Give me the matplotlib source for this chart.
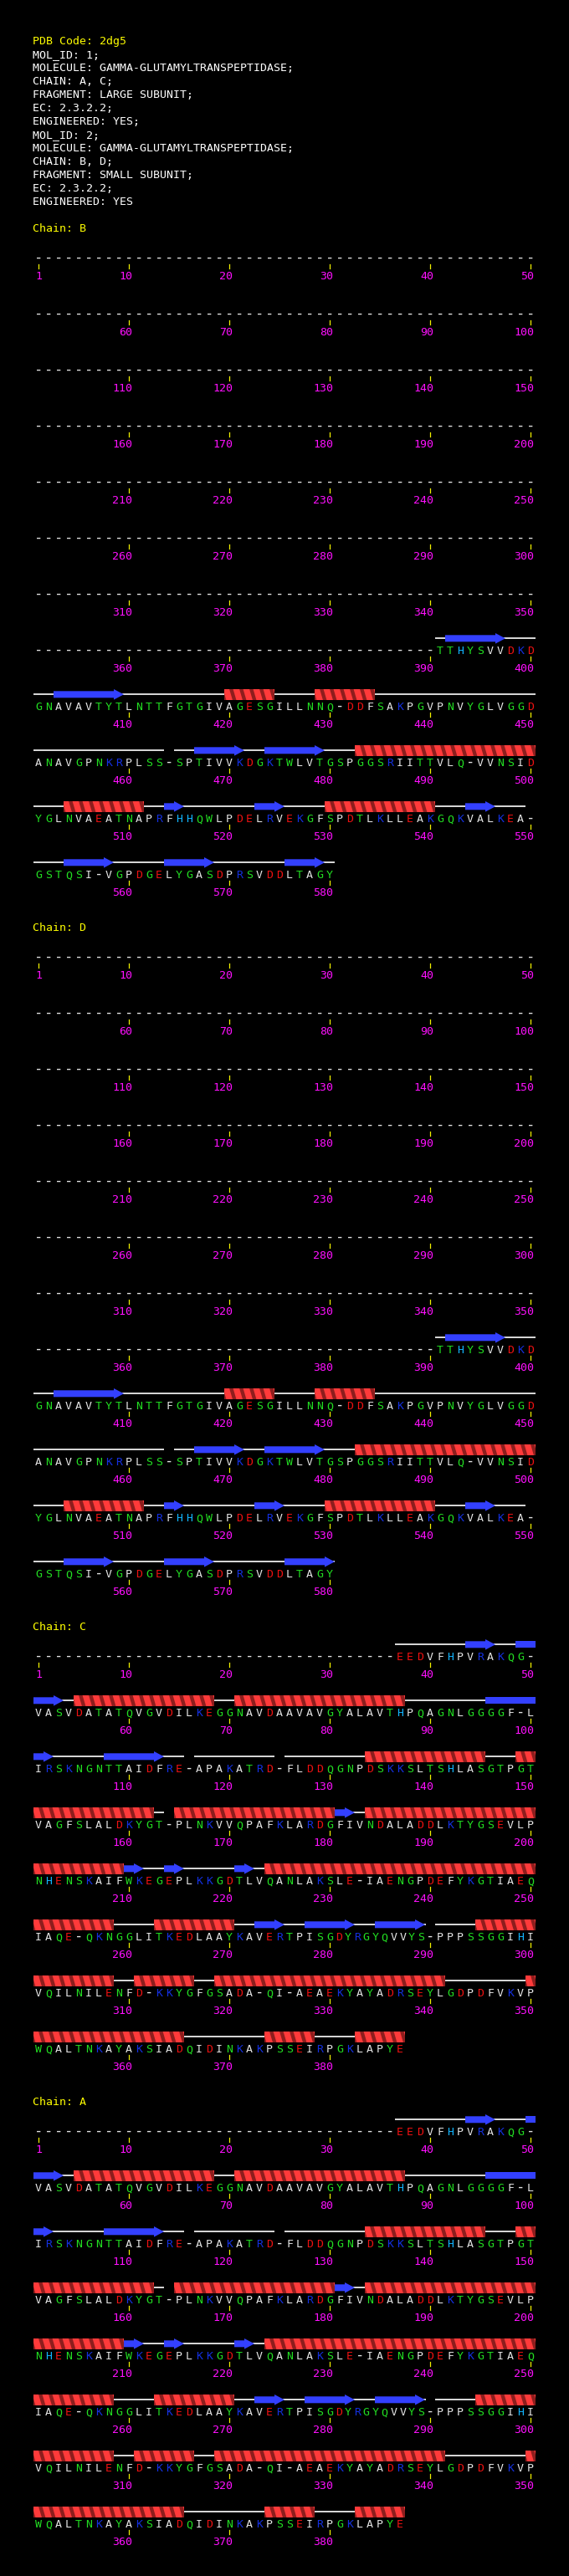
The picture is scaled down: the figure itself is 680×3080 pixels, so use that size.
import matplotlib
matplotlib.use("Agg")
import matplotlib.pyplot as plt
from matplotlib.patches import Rectangle, Polygon
import numpy as np

# ---------------- data ----------------
HEADER_TITLE = "PDB Code: 2dg5"
HEADER_LINES = [
    "MOL_ID: 1;",
    "MOLECULE: GAMMA-GLUTAMYLTRANSPEPTIDASE;",
    "CHAIN: A, C;",
    "FRAGMENT: LARGE SUBUNIT;",
    "EC: 2.3.2.2;",
    "ENGINEERED: YES;",
    "MOL_ID: 2;",
    "MOLECULE: GAMMA-GLUTAMYLTRANSPEPTIDASE;",
    "CHAIN: B, D;",
    "FRAGMENT: SMALL SUBUNIT;",
    "EC: 2.3.2.2;",
    "ENGINEERED: YES",
]

CHAIN_ORDER = ["B", "D", "C", "A"]

# small subunit (chains B, D): residues 391-580 ('-' = not observed)
SMALL_FIRST = 391
SMALL_SEQ = ("TTHYSVVDKD"
             "GNAVAVTYTLNTTFGTGIVAGESGILLNNQ-DDFSAKPGVPNVYGLVGGD"
             "ANAVGPNKRPLSS-SPTIVVKDGKTWLVTGSPGGSRIITTVLQ-VVNSID"
             "YGLNVAEATNAPRFHHQWLPDELRVEKGFSPDTLKLLEAKGQKVALKEA-"
             "GSTQSI-VGPDGELYGASDPRSVDDLTAGY")

# large subunit (chains A, C): residues 37-387, one inserted residue between 280 and 290
LARGE_FIRST = 37
LARGE_SEQ = ("EEDVFHPVRAKQG-"
             "VASVDATATQVGVDILKEGGNAVDAAVAVGYALAVTHPQAGNLGGGGF-L"
             "IRSKNGNTTAIDFRE-APAKATRD-FLDDQGNPDSKKSLTSHLASGTPGT"
             "VAGFSLALDKYGT-PLNKVVQPAFKLARDGFIVNDALADDLKTYGSEVLP"
             "NHENSKAIFWKEGEPLKKGDTLVQANLAKSLE-IAENGPDEFYKGTIAEQ"
             "IAQE-QKNGGLITKEDLAAYKAVERTPISGDYRGYQVVYS-PPPSSGGIHI"
             "VQILNILENFD-KKYGFGSADA-QI-AEAEKYAYADRSEYLGDPDFVKVP"
             "WQALTNKAYAKSIADQIDINKAKPSSEIRPGKLAPYE")
LARGE_INSERT_WINDOW = (280, 290)

B_STRANDS = [(392, 397), (403, 409), (467, 471), (474, 479), (514, 515), (523, 525),
             (544, 546), (554, 558), (564, 568), (576, 579)]
B_HELICES = [(420, 424), (429, 434), (483, 500), (504, 511), (530, 540)]
D_STRANDS = [(392, 397), (403, 409), (467, 471), (474, 479), (514, 515), (523, 525),
             (544, 546), (554, 558), (564, 568), (576, 580)]
D_HELICES = [(420, 424), (429, 434), (483, 500), (504, 511), (530, 540)]
C_STRANDS = [(44, 46), (49, 53), (96, 102), (108, 113), (181, 182), (210, 211), (214, 215),
             (221, 222), (273, 275), (278, 282), (285, 289)]
A_STRANDS = [(44, 46), (50, 53), (96, 102), (108, 113), (181, 182), (210, 211), (214, 215),
             (221, 222), (273, 275), (278, 282), (285, 289)]
AC_HELICES = [(55, 68), (71, 87), (134, 145), (149, 162), (165, 180), (184, 209), (224, 258),
              (263, 270), (295, 308), (311, 316), (319, 341), (350, 365), (374, 378), (383, 387)]

CHAINS = {
    "B": dict(first=SMALL_FIRST, seq=SMALL_SEQ, window=None, strands=B_STRANDS, helices=B_HELICES),
    "D": dict(first=SMALL_FIRST, seq=SMALL_SEQ, window=None, strands=D_STRANDS, helices=D_HELICES),
    "C": dict(first=LARGE_FIRST, seq=LARGE_SEQ, window=LARGE_INSERT_WINDOW, strands=C_STRANDS, helices=AC_HELICES),
    "A": dict(first=LARGE_FIRST, seq=LARGE_SEQ, window=LARGE_INSERT_WINDOW, strands=A_STRANDS, helices=AC_HELICES),
}

RES_GROUPS = {"AVLIPFM": "#e4e4e4", "GSTNQYWC": "#22dd22", "DE": "#ee1111",
              "KR": "#1430e0", "H": "#12b4ff", "-": "#e0e0e0"}

# ---------------- style ----------------
W, H = 680, 3080
FONT = "DejaVu Sans Mono"
FS = 9.5
FS_DASH = 12.5
ADV = 7.95
X0 = 40.0          # left edge of residue 1 slot
DX = 12.0          # residue slot width
ROW_H = 67.0
CAP = 4.8
C_STRAND = "#3340ff"
C_HELIX = "#ff3a3a"
C_HELIX_DK = "#8e1d1d"
C_TICK = "#f0f000"
C_NUM = "#ff10ff"
C_YEL = "#ffff00"

fig = plt.figure(figsize=(W / 100, H / 100), dpi=100)
fig.patch.set_facecolor("black")
ax = fig.add_axes([0, 0, 1, 1])
ax.set_xlim(0, W)
ax.set_ylim(H, 0)
ax.set_facecolor("black")
ax.axis("off")


def txt(x, y, s, color, ha="left", base=CAP, size=FS):
    ax.text(x, y + base, s, color=color, fontsize=size, family=FONT, ha=ha, va="baseline")


def layout(first, seq, window):
    items = [("-", float(r)) for r in range(1, first)]
    if window is None:
        items += [(c, float(first + i)) for i, c in enumerate(seq)]
        return items
    a, b = window
    ia = a - first
    nwin = b - a
    for i, c in enumerate(seq):
        if i <= ia:
            p = first + i
        elif i <= ia + nwin:
            k = i - ia
            p = a + k * (b - a) / (nwin + 1.0)
        else:
            p = first + i - 1
        items.append((c, float(p)))
    return items


def pieces(u0, u1):
    out = []
    k0 = int(np.floor(u0 / 50 + 1e-9))
    k1 = int(np.floor(u1 / 50 - 1e-9))
    for k in range(k0, k1 + 1):
        a = max(u0, 50 * k)
        b = min(u1, 50 * k + 50)
        out.append((k, X0 + DX * (a - 50 * k), X0 + DX * (b - 50 * k)))
    return out


def color_of(c):
    for g, col in RES_GROUPS.items():
        if c in g:
            return col
    return "#e4e4e4"


# header
hy = 48.3
txt(X0 - 1, hy, HEADER_TITLE, C_YEL)
for i, line in enumerate(HEADER_LINES):
    txt(X0 - 1, hy + 16 * (i + 1), line, "white")

y_label = hy + 16 * 14
for name in CHAIN_ORDER:
    ch = CHAINS[name]
    txt(X0 - 1, y_label, "Chain: " + name, C_YEL)
    items = layout(ch["first"], ch["seq"], ch["window"])
    last = int(round(max(p for _, p in items)))
    nrows = int(np.ceil(last / 50))
    row_y = [y_label + 36 + ROW_H * k for k in range(nrows)]

    # thin backbone line over observed residues
    runs, cur = [], None
    for c, p in items:
        if c != "-":
            if cur is None:
                cur = [p, p]
            else:
                cur[1] = p
        else:
            if cur is not None:
                runs.append(cur)
                cur = None
    if cur is not None:
        runs.append(cur)
    for p0, p1 in runs:
        for k, xa, xb in pieces(p0 - 1.0, p1):
            yl = row_y[k] - 14
            ax.plot([xa, xb], [yl, yl], color="white", lw=1.2, solid_capstyle="butt", zorder=1)

    # helices
    for s, e in ch["helices"]:
        for k, xa, xb in pieces(s - 1.0, float(e)):
            yc = row_y[k] - 13.8
            top, bot = yc - 6.8, yc + 6.8
            rect = Rectangle((xa, top), xb - xa, bot - top, facecolor=C_HELIX, edgecolor="none", zorder=2)
            ax.add_patch(rect)
            n = int(np.ceil((xb - xa) / DX)) + 1
            for j in range(-1, n):
                base = xa + DX * j
                poly = Polygon([(base + 6, top), (base + 10.5, top), (base + 14.5, bot), (base + 10, bot)],
                               closed=True, facecolor=C_HELIX_DK, edgecolor="none", zorder=2.1)
                ax.add_patch(poly)
                poly.set_clip_path(rect)

    # strands
    for s, e in ch["strands"]:
        pcs = pieces(s - 1.0, float(e))
        for idx, (k, xa, xb) in enumerate(pcs):
            yc = row_y[k] - 14
            if idx == len(pcs) - 1:
                hs = max(xa, xb - 12)
                pts = [(xa, yc - 4), (hs, yc - 4), (hs, yc - 6.3), (xb, yc), (hs, yc + 6.3),
                       (hs, yc + 4), (xa, yc + 4)]
            else:
                pts = [(xa, yc - 4), (xb, yc - 4), (xb, yc + 4), (xa, yc + 4)]
            ax.add_patch(Polygon(pts, closed=True, facecolor=C_STRAND, edgecolor="none", zorder=2.5))

    # residue letters
    for c, p in items:
        k = int(np.floor((p - 0.5) / 50))
        x = X0 + DX * (p - 0.5 - 50 * k)
        if c == "-":
            txt(x, row_y[k], c, color_of(c), ha="center", base=4.7, size=FS_DASH)
        else:
            txt(x, row_y[k], c, color_of(c), ha="center")

    # ticks and numbers
    marks = [1] + list(range(10, last + 1, 10))
    for r in marks:
        k = (r - 1) // 50
        x = X0 + DX * (r - 0.5 - 50 * k)
        yr = row_y[k]
        ax.plot([x, x], [yr + 8, yr + 13], color=C_TICK, lw=0.9, zorder=1)
        s = str(r)
        txt(x - (len(s) - 1) * ADV / 2, yr + 21, s, C_NUM, ha="center")

    y_label = row_y[-1] + 63

fig.savefig("out.png", dpi=100, facecolor="black")
